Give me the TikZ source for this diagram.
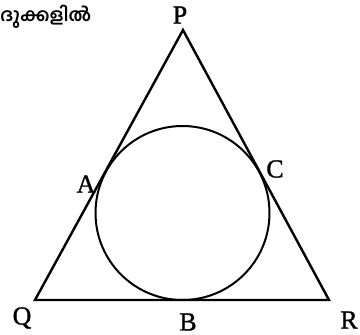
\documentclass[tikz,border=0pt]{standalone}
\usepackage{fontspec}
\setmainfont{Liberation Serif}
\newfontfamily\lblfont[FakeBold=1.2]{Liberation Serif}
\newfontfamily\malfont[Script=Malayalam]{Hind Kochi}
\begin{document}
\begin{tikzpicture}[x=1pt,y=-1pt,
  lbl/.style={font=\lblfont\fontsize{26}{28}\selectfont, inner sep=0pt},
  edge/.style={line width=2.4pt, line join=miter},
  circ/.style={line width=2pt}]
\useasboundingbox (0,0) rectangle (360,335);
\coordinate (P) at (183,30);
\coordinate (Q) at (35,300);
\coordinate (R) at (329,300);
\draw[edge] (P) -- (Q) -- (R) -- cycle;
\node[circ, draw, circle, minimum size=174pt, inner sep=0pt] (inc) at (182.5,213) {};
\node[lbl] (lP) at (180,15) {P};
\node[lbl] (lA) at (86,184) {A};
\node[lbl] (lC) at (275,169) {C};
\node[lbl] (lQ) at (22,318) {Q};
\node[lbl] (lB) at (188,322) {B};
\node[lbl] (lR) at (349,320) {R};
\node[anchor=west, inner sep=0pt, font=\malfont\bfseries\fontsize{18}{20}\selectfont] (txt) at (0,17) {ദുക്കളിൽ};
\end{tikzpicture}
\end{document}
